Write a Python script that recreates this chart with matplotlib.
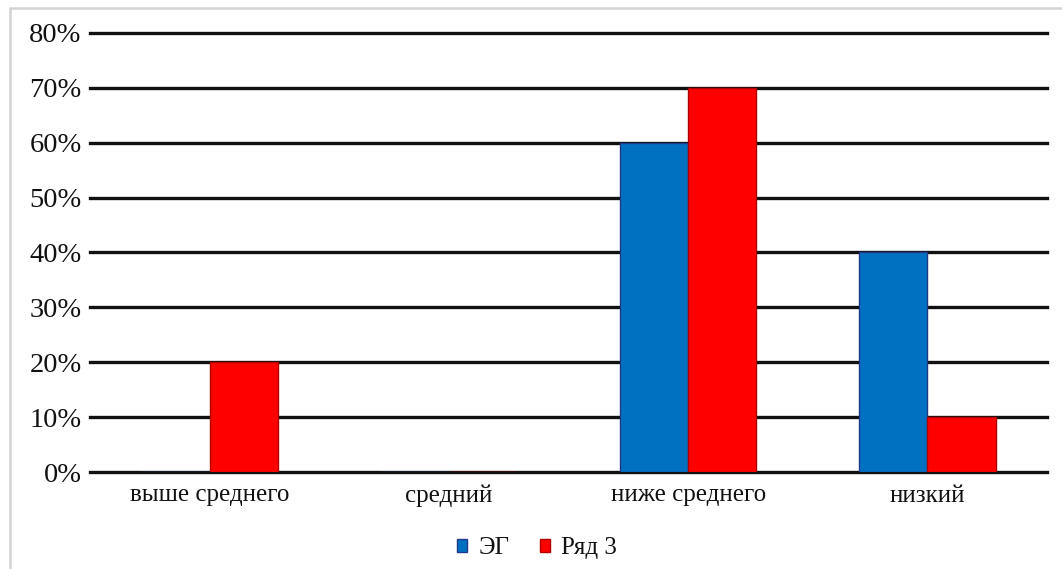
import matplotlib
matplotlib.use("Agg")
import matplotlib.pyplot as plt
from matplotlib.patches import Rectangle
import numpy as np

categories = ["выше среднего", "средний", "ниже среднего", "низкий"]
series_names = ["ЭГ", "Ряд 3"]
eg_values = [0, 0, 60, 40]
row3_values = [20, 0, 70, 10]
y_ticks = [0, 10, 20, 30, 40, 50, 60, 70, 80]

plt.rcParams["font.family"] = ["Liberation Serif", "DejaVu Serif"]

W, H = 1062, 569
fig = plt.figure(figsize=(W / 100, H / 100), dpi=100)

# outer chart frame
fig.patches.append(Rectangle((10 / W, -0.1), 1.2, 1 - 8 / H + 0.1,
                             transform=fig.transFigure, fill=False,
                             edgecolor="#d4d4d4", linewidth=1.8))

ax = fig.add_axes([90 / W, 1 - 472 / H, (1047 - 90) / W, (472 - 33) / H])
x = np.arange(len(categories))
bw = 0.285
ax.bar(x - bw / 2, eg_values, bw, color="#0070C0", edgecolor="#1F3A8A",
       linewidth=1.0, label=series_names[0], zorder=3)
ax.bar(x + bw / 2, row3_values, bw, color="#FF0000", edgecolor="#B00000",
       linewidth=1.0, label=series_names[1], zorder=3)

ax.set_xlim(-0.5, len(categories) - 0.5)
ax.set_ylim(0, 80)
ax.set_yticks(y_ticks)
ax.set_yticklabels([f"{v}%" for v in y_ticks], fontsize=20.5, color="#111111")
ax.set_xticks(x)
ax.set_xticklabels(categories, fontsize=18, color="#111111")
ax.tick_params(axis="y", length=0, pad=6)
ax.tick_params(axis="x", length=0, pad=9)
for s in ax.spines.values():
    s.set_visible(False)
ax.grid(axis="y", color="#111111", linewidth=2.4, zorder=1)
ax.set_axisbelow(True)
for gl in ax.get_ygridlines():
    gl.set_clip_on(False)

leg = fig.legend(loc="center", bbox_to_anchor=(537 / W, 1 - 548 / H), ncol=2,
                 frameon=False, handlelength=0.42, handleheight=0.42,
                 handletextpad=0.45, columnspacing=1.2,
                 prop={"size": 18})
for t in leg.get_texts():
    t.set_color("#111111")

fig.savefig("out.png", dpi=100)
